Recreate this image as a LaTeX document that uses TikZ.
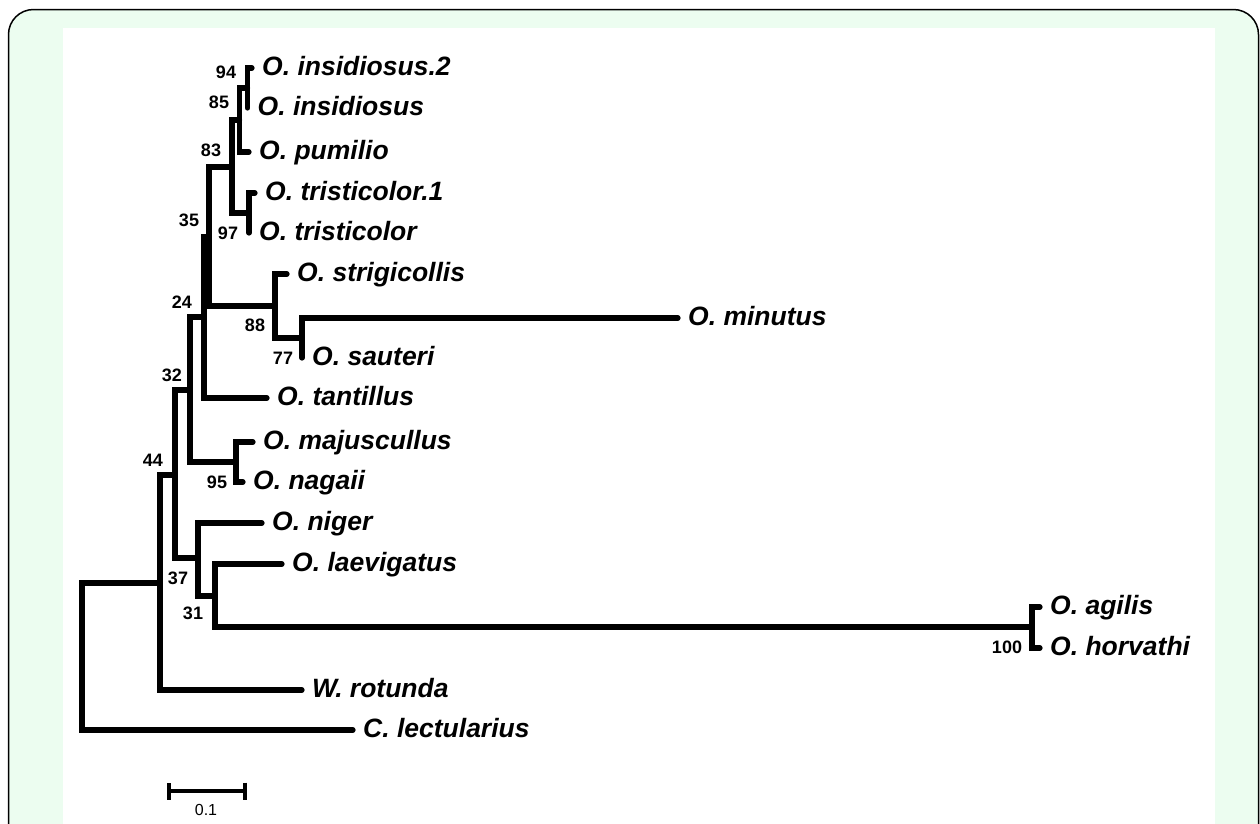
\documentclass[tikz,border=0pt]{standalone}
\usepackage{fontspec}
\setmainfont{Liberation Sans}
\usetikzlibrary{arrows.meta}
\definecolor{panelgreen}{RGB}{236,253,240}
\tikzset{
  branch/.style={line width=5.2pt, line cap=round},
  taxon/.style={anchor=west, inner xsep=10pt, inner ysep=0pt,
                text height=19pt, text depth=5pt,
                font=\fontsize{26.5}{30}\selectfont\bfseries\itshape},
  boot/.style={inner sep=0pt, font=\fontsize{18}{21}\selectfont\bfseries},
  scalebar/.style={line width=4.4pt, {Bar[width=17pt]}-{Bar[width=17pt]}},
  scaletext/.style={inner sep=0pt, font=\fontsize{16}{19}\selectfont}
}

\begin{document}
\begin{tikzpicture}[x=1pt,y=-1pt]
  \useasboundingbox (0,0) rectangle (1260,823);
  \clip (0,0) rectangle (1260,823);
  \draw [fill=panelgreen, line width=1.5pt, rounded corners=25pt] (8.5,9.5) rectangle (1258.5,900);
  \fill [white] (63,28) rectangle (1215,840);

  \coordinate (root) at (82,656);
  \coordinate (n44)  at (160,583);
  \coordinate (n37)  at (175,475);
  \coordinate (n32)  at (190,390);
  \coordinate (n24)  at (204,317);
  \coordinate (n35)  at (209,237);
  \coordinate (n83)  at (232,167);
  \coordinate (n85)  at (239.5,120);
  \coordinate (n94)  at (247.5,88);
  \coordinate (n97)  at (249,213);
  \coordinate (n88)  at (275,306);
  \coordinate (n77)  at (302,338);
  \coordinate (n95)  at (236,462);
  \coordinate (n31)  at (198,558);
  \coordinate (n31b) at (215,596);
  \coordinate (n100) at (1032,627);

  \node [taxon] (ins2) at (252,68)  {O. insidiosus.2};
  \node [taxon] (ins)  at (247.5,108) {O. insidiosus};
  \node [taxon] (pum)  at (249,152) {O. pumilio};
  \node [taxon] (tri1) at (255,193) {O. tristicolor.1};
  \node [taxon] (tri)  at (249,233) {O. tristicolor};
  \node [taxon] (str)  at (287,274) {O. strigicollis};
  \node [taxon] (min)  at (678,318) {O. minutus};
  \node [taxon] (sau)  at (302,358) {O. sauteri};
  \node [taxon] (tan)  at (267,398) {O. tantillus};
  \node [taxon] (maj)  at (253,442) {O. majuscullus};
  \node [taxon] (nag)  at (243,482) {O. nagaii};
  \node [taxon] (nig)  at (262,523) {O. niger};
  \node [taxon] (lae)  at (282,564) {O. laevigatus};
  \node [taxon] (agi)  at (1040,607) {O. agilis};
  \node [taxon] (hor)  at (1040,648) {O. horvathi};
  \node [taxon] (rot)  at (302,690) {W. rotunda};
  \node [taxon] (lec)  at (353,730) {C. lectularius};

  \draw [branch] (root) |- (n44);
  \draw [branch] (root) |- (lec.west);
  \draw [branch] (n44) |- (n37);
  \draw [branch] (n44) |- (rot.west);
  \draw [branch] (n37) |- (n32);
  \draw [branch] (n37) |- (n31);
  \draw [branch] (n32) |- (n24);
  \draw [branch] (n32) |- (n95);
  \draw [branch] (n24) |- (n35);
  \draw [branch] (n24) |- (tan.west);
  \draw [branch] (n35) |- (n83);
  \draw [branch] (n35) |- (n88);
  \draw [branch] (n83) |- (n85);
  \draw [branch] (n83) |- (n97);
  \draw [branch] (n85) |- (n94);
  \draw [branch] (n85) |- (pum.west);
  \draw [branch] (n94) |- (ins2.west);
  \draw [branch] (n94) |- (ins.west);
  \draw [branch] (n97) |- (tri1.west);
  \draw [branch] (n97) |- (tri.west);
  \draw [branch] (n88) |- (str.west);
  \draw [branch] (n88) |- (n77);
  \draw [branch] (n77) |- (min.west);
  \draw [branch] (n77) |- (sau.west);
  \draw [branch] (n95) |- (maj.west);
  \draw [branch] (n95) |- (nag.west);
  \draw [branch] (n31) |- (nig.west);
  \draw [branch] (n31) |- (n31b);
  \draw [branch] (n31b) |- (lae.west);
  \draw [branch] (n31b) |- (n100);
  \draw [branch] (n100) |- (agi.west);
  \draw [branch] (n100) |- (hor.west);

  \node [boot] (b94)  at (226,72)  {94};
  \node [boot] (b85)  at (219,102) {85};
  \node [boot] (b83)  at (211,150) {83};
  \node [boot] (b35)  at (189,220) {35};
  \node [boot] (b97)  at (228,233) {97};
  \node [boot] (b24)  at (182,302) {24};
  \node [boot] (b88)  at (255,325) {88};
  \node [boot] (b77)  at (283,358) {77};
  \node [boot] (b32)  at (172,375) {32};
  \node [boot] (b44)  at (153,460) {44};
  \node [boot] (b95)  at (217,482) {95};
  \node [boot] (b37)  at (178,578) {37};
  \node [boot] (b31)  at (193,613) {31};
  \node [boot] (b100) at (1007,647) {100};

  \coordinate (sbl) at (167,791);
  \coordinate (sbr) at (247,791);
  \draw [scalebar] (sbl) -- (sbr);
  \node [scaletext] (sbt) at (206,810) {0.1};
\end{tikzpicture}
\end{document}
